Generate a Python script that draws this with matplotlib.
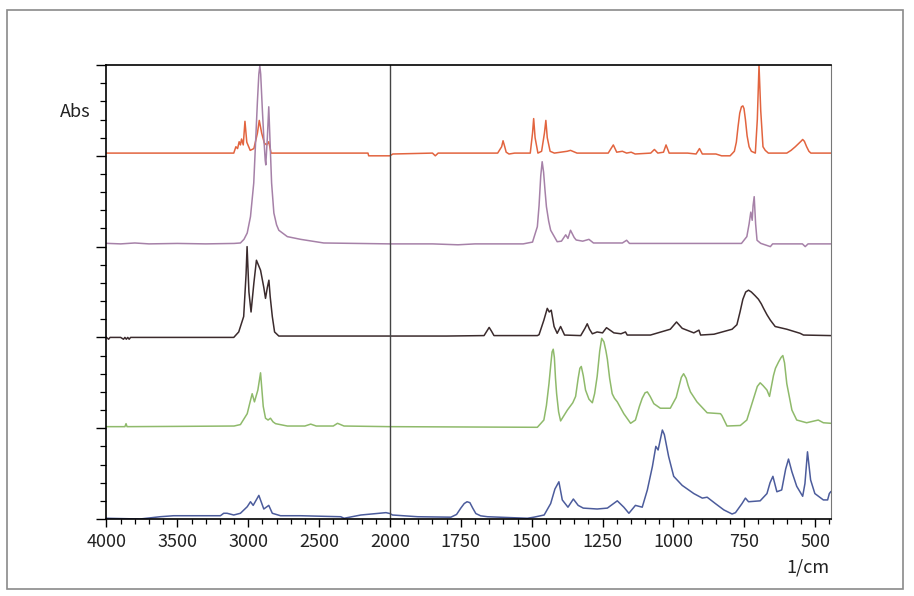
import numpy as np
import matplotlib
matplotlib.use("Agg")
import matplotlib.pyplot as plt
from matplotlib.ticker import FixedLocator, NullFormatter
from matplotlib.patches import Rectangle

# spectra: wavenumber (1/cm) and absorbance above each trace's own baseline
red_wn = [4000, 3800, 3500, 3300, 3102, 3087, 3075, 3064, 3055, 3047, 3035, 3023, 3010, 2986,
          2960, 2935, 2922, 2905, 2886, 2870, 2855, 2845, 2839, 2500, 2155, 2150, 2000, 1990,
          1850, 1840, 1830, 1620, 1606, 1601, 1595, 1590, 1580, 1560, 1505, 1497, 1493, 1488,
          1478, 1465, 1455, 1450, 1445, 1435, 1420, 1375, 1363, 1340, 1230, 1212, 1200, 1180,
          1165, 1149, 1135, 1080, 1067, 1055, 1035, 1026, 1015, 950, 920, 908, 898, 850, 830,
          800, 785, 778, 772, 766, 760, 755, 751, 746, 740, 733, 725, 711, 704, 698, 692, 684,
          676, 665, 600, 585, 570, 560, 550, 544, 538, 530, 522, 515, 445]
red_abs = [.03, .03, .03, .03, .03, .10, .08, .155, .12, .185, .12, .38, .15, .06,
           .08, .25, .39, .25, .14, .12, .155, .08, .03, .03, .03, 0, 0, .02,
           .03, 0, .03, .03, .10, .166, .10, .04, .02, .03, .03, .25, .41, .2,
           .03, .05, .25, .39, .2, .05, .03, .05, .06, .03, .03, .12, .04, .05,
           .03, .04, .02, .03, .07, .03, .04, .12, .03, .03, .02, .08, .02, .02, 0,
           0, .05, .15, .32, .47, .54, .55, .52, .40, .22, .10, .05, .03, .4, 1.0, .5, .1,
           .06, .03, .03, .06, .10, .13, .16, .18, .16, .10, .05, .03, .03]

purple_wn = [4000, 3900, 3800, 3700, 3500, 3300, 3100, 3055, 3030, 3007, 2984, 2961, 2948, 2935,
             2925, 2918, 2912, 2900, 2890, 2880, 2876, 2865, 2855, 2847, 2835, 2819, 2800, 2784,
             2724, 2630, 2467, 2000, 1850, 1760, 1700, 1530, 1497, 1480, 1474, 1468, 1463, 1458,
             1453, 1448, 1440, 1433, 1410, 1395, 1380, 1372, 1363, 1350, 1343, 1320, 1298, 1282,
             1180, 1165, 1155, 1000, 760, 741, 733, 727, 722, 719, 715, 710, 705, 692, 658, 650,
             545, 535, 525, 445]
purple_abs = [.036, .03, .04, .03, .035, .03, .035, .04, .08, .15, .33, .70, 1.15, 1.6,
              1.9, 1.99, 1.9, 1.5, 1.2, .95, .90, 1.2, 1.54, 1.2, .70, .37, .24, .18,
              .11, .08, .04, .03, .03, .02, .03, .03, .05, .22, .45, .78, .935, .82,
              .62, .44, .28, .18, .054, .06, .13, .09, .18, .1, .073, .06, .08, .04,
              .04, .07, .035, .035, .035, .11, .25, .38, .29, .45, .55, .25, .07, .036, 0, .03,
              .03, 0, .03, .03]

black_wn = [4000, 3985, 3975, 3900, 3880, 3870, 3860, 3850, 3840, 3830, 3800, 3500, 3102, 3067,
            3032, 3015, 3008, 2995, 2980, 2960, 2942, 2913, 2890, 2878, 2865, 2854, 2845, 2830,
            2814, 2784, 2000, 1800, 1668, 1658, 1650, 1642, 1633, 1480, 1474, 1457, 1445, 1438,
            1431, 1421, 1410, 1398, 1384, 1327, 1312, 1304, 1296, 1286, 1269, 1250, 1236, 1210,
            1185, 1169, 1163, 1081, 1011, 989, 969, 928, 910, 904, 857, 793, 776, 765, 755,
            745, 735, 725, 712, 700, 690, 682, 670, 658, 641, 600, 553, 541, 445]
black_abs = [0, -.02, 0, 0, -.02, 0, -.02, 0, -.02, 0, 0, 0, 0, .06,
             .23, .7, 1.0, .5, .28, .6, .85, .74, .55, .43, .55, .63, .45, .23,
             .06, .015, .015, .015, .02, .07, .11, .07, .02, .02, .03, .19, .32, .28,
             .30, .12, .045, .12, .026, .02, .10, .15, .09, .04, .06, .05, .107, .05,
             .04, .06, .026, .026, .09, .17, .10, .05, .08, .026, .035, .09, .14, .28, .42,
             .50, .52, .50, .46, .42, .37, .32, .25, .19, .12, .09, .045, .026, .02]

green_wn = [4000, 3870, 3862, 3855, 3500, 3100, 3055, 3007, 2985, 2972, 2956, 2932, 2913, 2894,
            2878, 2860, 2843, 2825, 2807, 2724, 2600, 2559, 2520, 2400, 2370, 2324, 2000, 1480,
            1457, 1448, 1439, 1432, 1428, 1424, 1420, 1416, 1412, 1405, 1398, 1390, 1374, 1355,
            1345, 1336, 1330, 1325, 1318, 1310, 1298, 1286, 1278, 1269, 1260, 1253, 1245, 1238,
            1233, 1225, 1216, 1208, 1198, 1175, 1151, 1134, 1120, 1110, 1100, 1092, 1082, 1069,
            1046, 1011, 990, 982, 972, 964, 955, 948, 940, 917, 881, 834, 829, 811, 764, 741,
            715, 704, 694, 684, 670, 661, 647, 640, 629, 620, 614, 608, 600, 582, 565, 530,
            489, 471, 445]
green_abs = [.017, .017, .05, .017, .02, .024, .04, .16, .3, .38, .29, .42, .61, .24,
             .11, .09, .11, .07, .05, .024, .024, .045, .024, .024, .054, .024, .017, .01,
             .09, .25, .49, .72, .84, .87, .78, .55, .38, .18, .08, .12, .20, .28,
             .35, .55, .66, .68, .58, .42, .32, .28, .38, .57, .85, .99, .95, .85,
             .76, .55, .38, .33, .29, .16, .054, .09, .24, .33, .39, .40, .35, .27,
             .22, .22, .34, .44, .56, .60, .55, .47, .40, .29, .17, .16, .14, .024, .03, .09,
             .35, .46, .50, .47, .42, .35, .58, .66, .73, .78, .80, .72, .49, .20, .09, .06,
             .09, .06, .054]

blue_wn = [4000, 3763, 3621, 3527, 3196, 3173, 3149, 3102, 3055, 3007, 2984, 2965, 2925, 2890,
           2855, 2830, 2772, 2630, 2347, 2324, 2205, 2028, 2000, 1991, 1902, 1785, 1765, 1750,
           1738, 1728, 1718, 1708, 1697, 1680, 1656, 1515, 1492, 1456, 1433, 1418, 1404, 1392,
           1372, 1353, 1336, 1318, 1269, 1233, 1198, 1175, 1157, 1134, 1110, 1092, 1074, 1062,
           1054, 1039, 1032, 1017, 999, 969, 928, 898, 881, 852, 822, 793, 781, 758, 746, 735,
           694, 670, 659, 649, 640, 635, 618, 604, 594, 582, 565, 544, 536, 527, 516, 501,
           471, 456, 450, 445]
blue_abs = [.008, 0, .025, .036, .036, .063, .063, .044, .063, .135, .19, .15, .26, .11,
            .15, .063, .036, .036, .025, .008, .044, .07, .06, .044, .025, .02, .05, .12,
            .17, .19, .18, .12, .06, .035, .025, .008, .02, .044, .17, .33, .41, .21,
            .13, .22, .15, .12, .11, .12, .20, .13, .063, .15, .13, .32, .58, .80,
            .76, .98, .93, .69, .47, .37, .28, .23, .24, .17, .10, .055, .07, .17, .23, .19,
            .20, .28, .40, .47, .36, .30, .32, .55, .66, .52, .36, .25, .39, .74, .43, .28,
            .21, .21, .28, .30]

major_wn = [4000, 3500, 3000, 2500, 2000, 1750, 1500, 1250, 1000, 750, 500]
major_lbl = ["4000", "3500", "3000", "2500", "2000", "1750", "1500", "1250", "1000", "750", "500"]

traces = [
    (red_wn, red_abs, 4, "#e2643f"),
    (purple_wn, purple_abs, 3, "#a681a8"),
    (black_wn, black_abs, 2, "#3b2b2d"),
    (green_wn, green_abs, 1, "#8fba6b"),
    (blue_wn, blue_abs, 0, "#4c5c9c"),
]


# the x axis is compressed above 2000 1/cm (half the scale of the lower part)
def fwd(w):
    w = np.asarray(w, dtype=float)
    return np.where(w >= 2000, w, 2 * w - 2000)


def inv(u):
    u = np.asarray(u, dtype=float)
    return np.where(u >= 2000, u, (u + 2000) / 2)


plt.rcParams['font.family'] = ['Noto Sans CJK JP', 'DejaVu Sans']

fig = plt.figure(figsize=(9.14, 5.96), dpi=100)
fig.patches.append(Rectangle((7 / 914, 1 - 589 / 596), 896 / 914, 579 / 596,
                             transform=fig.transFigure, fill=False,
                             edgecolor="#8a8a8a", linewidth=1.2))
ax = fig.add_axes([0.1165, 0.1292, 0.7924, 0.7617])
ax.set_xscale("function", functions=(fwd, inv))

for wn, ab, off, col in traces:
    ax.plot(wn, np.array(ab) + off, color=col, linewidth=1.1)

ax.axvline(2000, color="#444444", linewidth=1.0)

ax.set_xlim(4000, 445)
ax.set_ylim(0, 5)

# ticks
minor_wn = [w for w in list(range(3900, 2000, -100)) + list(range(1950, 445, -50))
            if w not in major_wn]
ax.xaxis.set_major_locator(FixedLocator(major_wn))
ax.xaxis.set_minor_locator(FixedLocator(minor_wn))
ax.set_xticklabels(major_lbl)
ax.xaxis.set_minor_formatter(NullFormatter())
ax.yaxis.set_major_locator(FixedLocator(np.arange(0, 5.01, 1.0)))
ax.yaxis.set_minor_locator(FixedLocator(np.arange(0, 5.01, 0.2)))
ax.set_yticklabels([])

ax.tick_params(axis="x", which="major", length=6, width=1.0, labelsize=13,
               labelcolor="#222222", pad=4)
ax.tick_params(axis="x", which="minor", length=3.5, width=0.9)
ax.tick_params(axis="y", which="major", length=7, width=1.0)
ax.tick_params(axis="y", which="minor", length=4.5, width=0.9)

for side in ["left", "bottom", "top"]:
    ax.spines[side].set_linewidth(1.2)
    ax.spines[side].set_color("black")
ax.spines["right"].set_linewidth(0.8)
ax.spines["right"].set_color("#777777")

fig.text(75 / 914, 1 - 112 / 596, "Abs", ha="center", va="center",
         fontsize=13, color="#222222")
fig.text(830 / 914, 1 - 567 / 596, "1/cm", ha="right", va="center",
         fontsize=13, color="#222222")

fig.savefig("out.png", dpi=100)
